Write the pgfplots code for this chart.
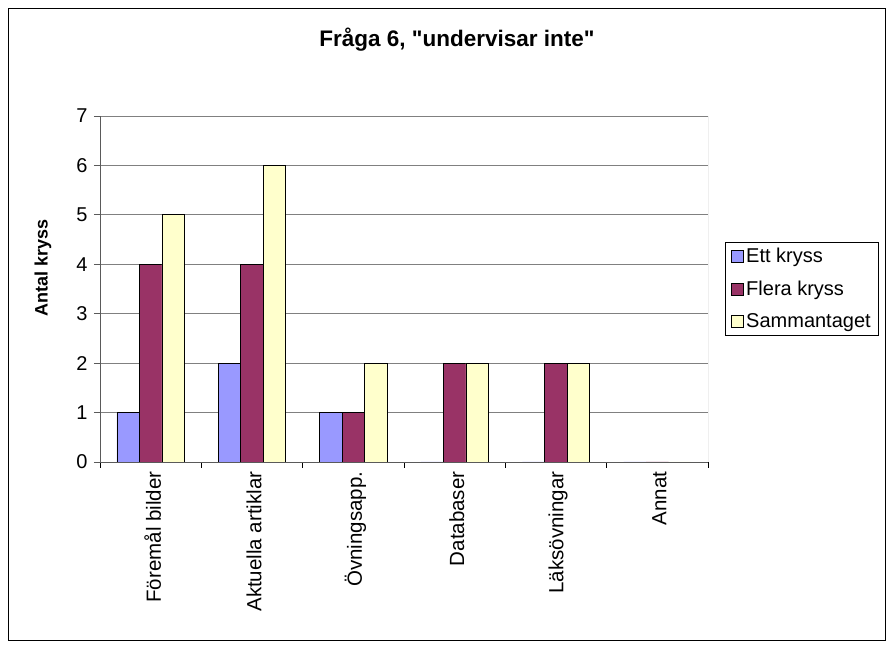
\documentclass[border=0pt]{standalone}
\usepackage{pgfplots}
\pgfplotsset{compat=1.18}
\usepackage{fontspec}
\setmainfont{Liberation Sans}[Ligatures=TeXOff]
\definecolor{cEtt}{RGB}{153,153,255}
\definecolor{cFlera}{RGB}{153,51,102}
\definecolor{cSamm}{RGB}{255,255,204}
\definecolor{cGrid}{RGB}{128,128,128}
\definecolor{cAxis}{RGB}{90,90,90}
\begin{document}
\begin{tikzpicture}[x=1bp,y=1bp]
\useasboundingbox (0,0) rectangle (893,648);
\draw[black, line width=0.8bp] (8,8) rectangle (885,640);
\node[font=\bfseries\fontsize{22.5bp}{26bp}\selectfont] at (457,608) {Fråga 6, "undervisar inte"};
\begin{axis}[
  at={(100bp,186bp)}, anchor=south west,
  scale only axis, width=608bp, height=346bp,
  xmin=-0.5, xmax=5.5, ymin=0, ymax=7,
  ybar=0pt, bar width=22.5bp,
  xtick={0,1,2,3,4,5},
  xticklabels={Föremål bilder, Aktuella artiklar, Övningsapp., Databaser, Läksövningar, Annat},
  major x tick style={draw=none},
  minor xtick={-0.5,0.5,1.5,2.5,3.5,4.5,5.5},
  minor x tick style={black, line width=0.8bp},
  minor tick length=6bp,
  xticklabel style={rotate=90, anchor=east, font=\fontsize{20.5bp}{24bp}\selectfont, yshift=-2bp},
  ytick={0,...,7},
  yticklabel style={font=\fontsize{20bp}{24bp}\selectfont, xshift=-3bp},
  /pgf/number format/assume math mode=true,
  major y tick style={cAxis, line width=0.8bp},
  major tick length=6bp,
  tick align=outside,
  xtick pos=bottom, ytick pos=left,
  ymajorgrids, grid style={cGrid, line width=0.8bp},
  axis line style={cAxis, line width=0.8bp},
  axis x line*=bottom, axis y line*=left,
  ylabel={Antal kryss},
  ylabel style={at={(rel axis cs:-0.094,0.56)}, anchor=center, font=\bfseries\fontsize{18bp}{22bp}\selectfont},
  legend style={at={(1.028,0.501)}, anchor=west, draw=black, line width=0.8bp,
     font=\fontsize{20bp}{24bp}\selectfont, row sep=13bp, inner xsep=6bp, inner ysep=4bp},
  legend cell align=left,
  legend image code/.code={\draw[#1, line width=0.8bp] (4bp,-6bp) rectangle (16bp,6bp);},
]
\addplot[fill=cEtt, draw=black, line width=0.8bp] coordinates {(0,1) (1,2) (2,1) (3,0) (4,0) (5,0)};
\addplot[fill=cFlera, draw=black, line width=0.8bp] coordinates {(0,4) (1,4) (2,1) (3,2) (4,2) (5,0)};
\addplot[fill=cSamm, draw=black, line width=0.8bp] coordinates {(0,5) (1,6) (2,2) (3,2) (4,2) (5,0)};
\legend{Ett kryss, Flera kryss, Sammantaget}
\draw[cGrid, line width=0.8bp] (rel axis cs:1,0) -- (rel axis cs:1,1);
\draw[black, line width=0.8bp] (rel axis cs:0,0) -- (rel axis cs:1,0);
\end{axis}
\end{tikzpicture}
\end{document}
